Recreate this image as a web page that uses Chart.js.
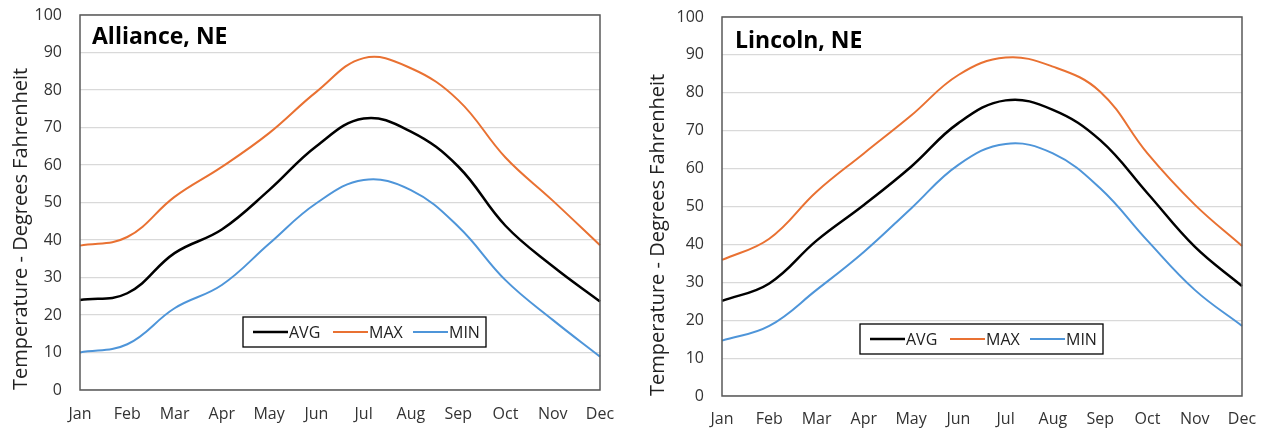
<!DOCTYPE html>
<html>
<head>
<meta charset="utf-8">
<script src="https://cdn.jsdelivr.net/npm/chart.js@4"></script>
<style>
  html, body { margin: 0; padding: 0; background: #fff; }
  #wrap { position: relative; width: 1271px; height: 432px; }
  .box { position: absolute; top: 0; height: 432px; }
</style>
</head>
<body>
<div id="wrap">
  <div class="box" style="left:0;width:635px"><canvas id="c1" width="635" height="432"></canvas></div>
  <div class="box" style="left:635px;width:636px"><canvas id="c2" width="636" height="432"></canvas></div>
</div>
<script>
const months = ["Jan","Feb","Mar","Apr","May","Jun","Jul","Aug","Sep","Oct","Nov","Dec"];
const yTicks = [0,10,20,30,40,50,60,70,80,90,100];
const seriesNames = ["AVG","MAX","MIN"];

const allianceAvg = [24, 25.8, 36.5, 42.8, 53.3, 65, 72.4, 68.9, 59.6, 43.8, 33, 23.6];
const allianceMax = [38.5, 40.8, 51.5, 59.5, 68.5, 79.5, 88.5, 85.8, 77.3, 62, 50.5, 38.6];
const allianceMin = [10, 12.2, 21.8, 28, 39, 49.8, 56, 53.3, 43.6, 29.3, 18.7, 8.9];

const lincolnAvg = [25.1, 29.7, 41, 50.4, 60.5, 72, 78, 75.5, 67.5, 53.5, 39.4, 29];
const lincolnMax = [35.9, 41.5, 53.9, 64, 74, 84.7, 89.3, 86.9, 80.3, 64, 50.5, 39.6];
const lincolnMin = [14.6, 18.5, 28, 38, 49.5, 61, 66.5, 64, 54.8, 41, 28, 18.5];

const colors = ["#000000", "#E97132", "#4E95D9"];
const FONT = "'Open Sans', 'Liberation Sans', sans-serif";

function overlayPlugin(title, dims) {
  return {
    id: 'overlay',
    afterDraw(chart) {
      const ctx = chart.ctx, a = chart.chartArea;
      ctx.save();
      ctx.strokeStyle = '#595959';
      ctx.lineWidth = 1.5;
      ctx.strokeRect(a.left, a.top, a.right - a.left, a.bottom - a.top);
      ctx.fillStyle = '#000';
      ctx.font = "bold 23px " + FONT;
      ctx.textBaseline = 'alphabetic';
      ctx.textAlign = 'left';
      ctx.fillText(title, a.left + dims.titleDx, a.top + dims.titleDy);
      const lx = a.left + dims.legDx, ly = dims.legTop;
      const w = 243, h = 30;
      ctx.fillStyle = '#fff';
      ctx.fillRect(lx, ly, w, h);
      ctx.strokeStyle = '#000';
      ctx.lineWidth = 1.3;
      ctx.strokeRect(lx, ly, w, h);
      ctx.font = "16px " + FONT;
      ctx.textBaseline = 'middle';
      const cy = ly + h / 2;
      const offs = [10, 90, 170];
      chart.data.datasets.forEach((ds, i) => {
        const x0 = lx + offs[i];
        ctx.strokeStyle = ds.borderColor;
        ctx.lineWidth = ds.borderWidth;
        ctx.beginPath();
        ctx.moveTo(x0, cy);
        ctx.lineTo(x0 + 35, cy);
        ctx.stroke();
        ctx.fillStyle = '#222';
        ctx.fillText(ds.label, x0 + 36, cy + 1);
      });
      ctx.restore();
    }
  };
}

function makeChart(id, title, avg, max, min, dims) {
  const data = [avg, max, min];
  return new Chart(document.getElementById(id), {
    type: 'line',
    data: {
      labels: months,
      datasets: seriesNames.map((n, i) => ({
        label: n,
        data: data[i],
        borderColor: colors[i],
        backgroundColor: colors[i],
        borderWidth: i === 0 ? 2.5 : 2,
        pointRadius: 0,
        tension: 0.4,
        fill: false
      }))
    },
    options: {
      responsive: false,
      animation: false,
      devicePixelRatio: 1,
      layout: { padding: { top: dims.top, right: dims.right, left: 0, bottom: 0 } },
      plugins: { legend: { display: false }, tooltip: { enabled: false } },
      scales: {
        x: {
          offset: false,
          grid: { display: false, drawTicks: true, tickLength: dims.xpad, tickColor: 'rgba(0,0,0,0)' },
          border: { display: false },
          ticks: { color: '#333', font: { family: FONT, size: 16 }, padding: 0, maxRotation: 0, autoSkip: false },
          afterFit(s) { s.height = dims.xh; }
        },
        y: {
          min: 0, max: 100,
          afterBuildTicks(s) { s.ticks = yTicks.map(v => ({ value: v })); },
          grid: { color: '#d9d9d9', lineWidth: 1.2, drawTicks: true, tickLength: 18, tickColor: 'rgba(0,0,0,0)' },
          border: { display: false },
          ticks: { color: '#333', font: { family: FONT, size: 16 }, padding: 0 },
          title: { display: true, align: 'start', text: 'Temperature - Degrees Fahrenheit', color: '#222', font: { family: FONT, size: 20 }, padding: { top: dims.titlePad, bottom: 0 } },
          afterFit(s) { s.width = dims.yw; }
        }
      }
    },
    plugins: [overlayPlugin(title, dims)]
  });
}

makeChart('c1', 'Alliance, NE', allianceAvg, allianceMax, allianceMin,
  { top: 15, right: 35, xh: 42, yw: 80, xpad: 15, titlePad: 9, titleDx: 12, titleDy: 29, legDx: 163, legTop: 317 });
makeChart('c2', 'Lincoln, NE', lincolnAvg, lincolnMax, lincolnMin,
  { top: 17, right: 29, xh: 36, yw: 87, xpad: 14, titlePad: 11, titleDx: 13, titleDy: 31, legDx: 138, legTop: 324 });
</script>
</body>
</html>
